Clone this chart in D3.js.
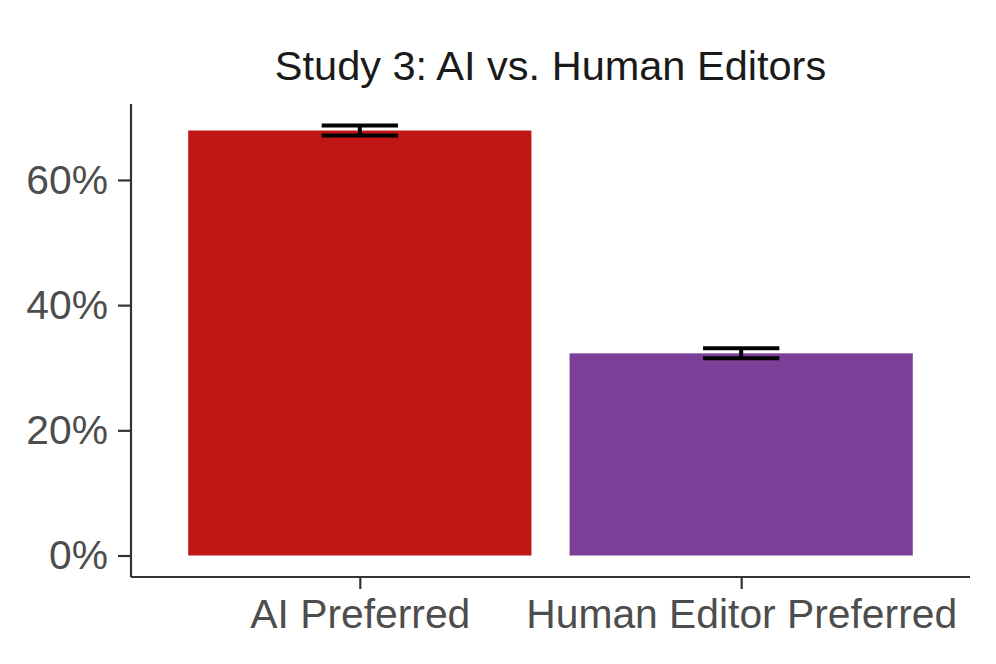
<!DOCTYPE html>
<html>
<head>
<meta charset="utf-8">
<script src="https://cdn.jsdelivr.net/npm/d3@7"></script>
<style>
  html, body { margin: 0; padding: 0; background: #fff; }
  svg { display: block; font-family: "Liberation Sans", Arial, sans-serif; }
</style>
</head>
<body>
<div id="root"></div>
<script>
// data (percent)
const categories = ["AI Preferred", "Human Editor Preferred"]
const values = [67.9, 32.3]
const errors = [0.8, 0.8]
const barColors = ["#C01616", "#7D4098"]
const yTicks = [0, 20, 40, 60]
const titleText = "Study 3: AI vs. Human Editors"

const wrapper = { width: 996, height: 664 }
const panel = { left: 131, right: 970, top: 104, bottom: 577 }

const svg = d3.select("#root")
  .append("svg")
  .attr("width", wrapper.width)
  .attr("height", wrapper.height)

// x: discrete, ggplot style expansion of 0.6 units each side
const xScale = d3.scaleLinear()
  .domain([0.4, categories.length + 0.6])
  .range([panel.left, panel.right])
const barWidth = 0.9
const capWidth = 0.2

// y: 5% multiplicative expansion around [0, max of error bar]
const yMax = d3.max(values.map((v, i) => v + errors[i]))
const pad = yMax * 0.05
const yScale = d3.scaleLinear()
  .domain([-pad, yMax + pad])
  .range([panel.bottom, panel.top])

const rows = categories.map((c, i) => ({ cat: c, i: i + 1, v: values[i], e: errors[i], color: barColors[i] }))

// bars
svg.append("g")
  .selectAll("rect")
  .data(rows)
  .join("rect")
  .attr("x", d => xScale(d.i - barWidth / 2))
  .attr("width", d => xScale(d.i + barWidth / 2) - xScale(d.i - barWidth / 2))
  .attr("y", d => yScale(d.v))
  .attr("height", d => yScale(0) - yScale(d.v))
  .attr("fill", d => d.color)

// error bars
const eb = svg.append("g")
  .selectAll("g")
  .data(rows)
  .join("g")
  .attr("stroke", "#000")
  .attr("stroke-width", 4)
eb.append("line")
  .attr("x1", d => xScale(d.i)).attr("x2", d => xScale(d.i))
  .attr("y1", d => yScale(d.v + d.e)).attr("y2", d => yScale(d.v - d.e))
eb.append("line")
  .attr("x1", d => xScale(d.i - capWidth / 2)).attr("x2", d => xScale(d.i + capWidth / 2))
  .attr("y1", d => yScale(d.v + d.e)).attr("y2", d => yScale(d.v + d.e))
eb.append("line")
  .attr("x1", d => xScale(d.i - capWidth / 2)).attr("x2", d => xScale(d.i + capWidth / 2))
  .attr("y1", d => yScale(d.v - d.e)).attr("y2", d => yScale(d.v - d.e))

// axes
const yAxis = svg.append("g")
  .attr("transform", `translate(${panel.left},0)`)
  .call(d3.axisLeft(yScale).tickValues(yTicks).tickFormat(d => d + "%").tickSize(13).tickPadding(10).tickSizeOuter(0))
yAxis.select(".domain").attr("d", `M0,${panel.top}V${panel.bottom}`)

const xAxis = svg.append("g")
  .attr("transform", `translate(0,${panel.bottom})`)
  .call(d3.axisBottom(xScale).tickValues(rows.map(d => d.i)).tickFormat(d => categories[d - 1]).tickSize(12).tickPadding(10).tickSizeOuter(0))
xAxis.select(".domain").attr("d", `M${panel.left},0H${panel.right}`)

svg.selectAll(".domain").attr("stroke", "#333").attr("stroke-width", 2.2)
svg.selectAll(".tick line").attr("stroke", "#333").attr("stroke-width", 2.2)
svg.selectAll(".tick text")
  .attr("fill", "#4D4D4D")
  .style("font-size", "40.8px")
  .style("font-family", "'Liberation Sans', Arial, sans-serif")

// title
svg.append("text")
  .attr("x", (panel.left + panel.right) / 2)
  .attr("y", 80)
  .attr("text-anchor", "middle")
  .attr("fill", "#1A1A1A")
  .style("font-size", "41.5px")
  .text(titleText)
</script>
</body>
</html>
